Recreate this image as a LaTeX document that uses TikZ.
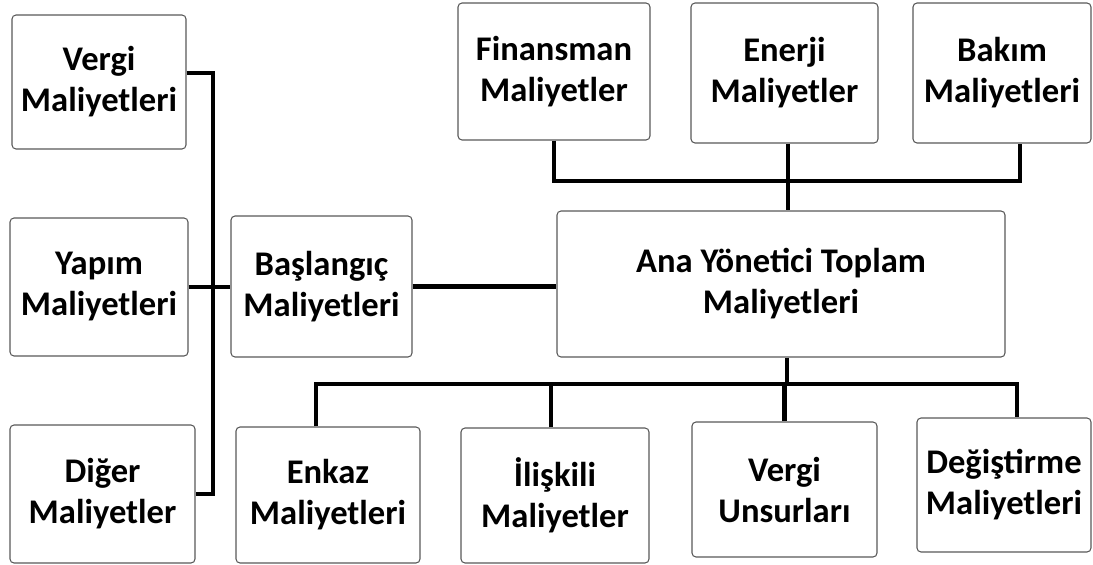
\documentclass[tikz,border=0pt]{standalone}
\usepackage{fontspec}
\setmainfont{Carlito}
\tikzset{
  cost/.style={draw=black!65, line width=0.9pt, rounded corners=0.12cm, fill=white, align=center, inner sep=0pt,
    font=\bfseries\fontsize{29.5}{35}\selectfont},
  bus/.style={line width=3.5pt}
}
\begin{document}
\begin{tikzpicture}[x=0.03cm, y=-0.03cm]
  \useasboundingbox (0,0) rectangle (1093,565);

  \node (vergi) [cost, minimum width=5.22cm, minimum height=4.02cm] at (99,82) {Vergi\\Maliyetleri};
  \node (yapim) [cost, minimum width=5.34cm, minimum height=4.14cm] at (99,287) {Yapım\\Maliyetleri};
  \node (diger) [cost, minimum width=5.55cm, minimum height=4.14cm] at (102.5,494) {Diğer\\Maliyetler};
  \node (baslangic) [cost, minimum width=5.43cm, minimum height=4.23cm] at (321.5,286.5) {Başlangıç\\Maliyetleri};
  \node (ana) [cost, minimum width=13.44cm, minimum height=4.38cm] at (781,284) {Ana Yönetici Toplam\\Maliyetleri};

  \node (finans) [cost, minimum width=5.76cm, minimum height=4.11cm] at (554,71.5) {Finansman\\Maliyetler};
  \node (enerji) [cost, minimum width=5.61cm, minimum height=4.2cm] at (784.5,73) {Enerji\\Maliyetler};
  \node (bakim) [cost, minimum width=5.34cm, minimum height=4.2cm] at (1002,73) {Bakım\\Maliyetleri};

  \node (enkaz) [cost, minimum width=5.52cm, minimum height=4.08cm] at (328,495) {Enkaz\\Maliyetleri};
  \node (ilis) [cost, minimum width=5.64cm, minimum height=4.05cm] at (555,495.5) {İlişkili\\Maliyetler};
  \node (vergiu) [cost, minimum width=5.55cm, minimum height=4.05cm] at (784.5,489.5) {Vergi\\Unsurları};
  \node (degis) [cost, minimum width=5.22cm, minimum height=4.02cm] at (1004,485) {Değiştirme\\Maliyetleri};

  \coordinate (lbus) at (213,0);
  \coordinate (tbus) at (0,181);
  \coordinate (bbus) at (0,384);
  \coordinate (vergiEnd) at ([yshift=0.27cm]vergi.east);
  \coordinate (enerjiEnd) at ([xshift=0.1cm]enerji.south);
  \coordinate (bakimEnd) at ([xshift=0.54cm]bakim.south);
  \coordinate (anaEnd) at ([xshift=0.18cm]ana.south);
  \coordinate (enkazEnd) at ([xshift=-0.36cm]enkaz.north);
  \coordinate (ilisEnd) at ([xshift=-0.12cm]ilis.north);
  \coordinate (degisEnd) at ([xshift=0.39cm]degis.north);

  \draw[bus] (vergiEnd) -| (diger.east -| lbus) -- (diger.east);
  \draw[bus] (yapim.east) -- (yapim.east -| baslangic.west);
  \draw[bus] (baslangic.east) -- (baslangic.east -| ana.west);

  \draw[bus] (finans.south) |- (bakimEnd |- tbus) -- (bakimEnd);
  \draw[bus] (enerjiEnd) -- (enerjiEnd |- ana.north);

  \draw[bus] (anaEnd) -- (anaEnd |- bbus);
  \draw[bus] (enkazEnd) |- (degisEnd |- bbus) -- (degisEnd);
  \foreach \n in {ilisEnd, vergiu.north}
    \draw[bus] (\n) -- (\n |- bbus);
\end{tikzpicture}
\end{document}
